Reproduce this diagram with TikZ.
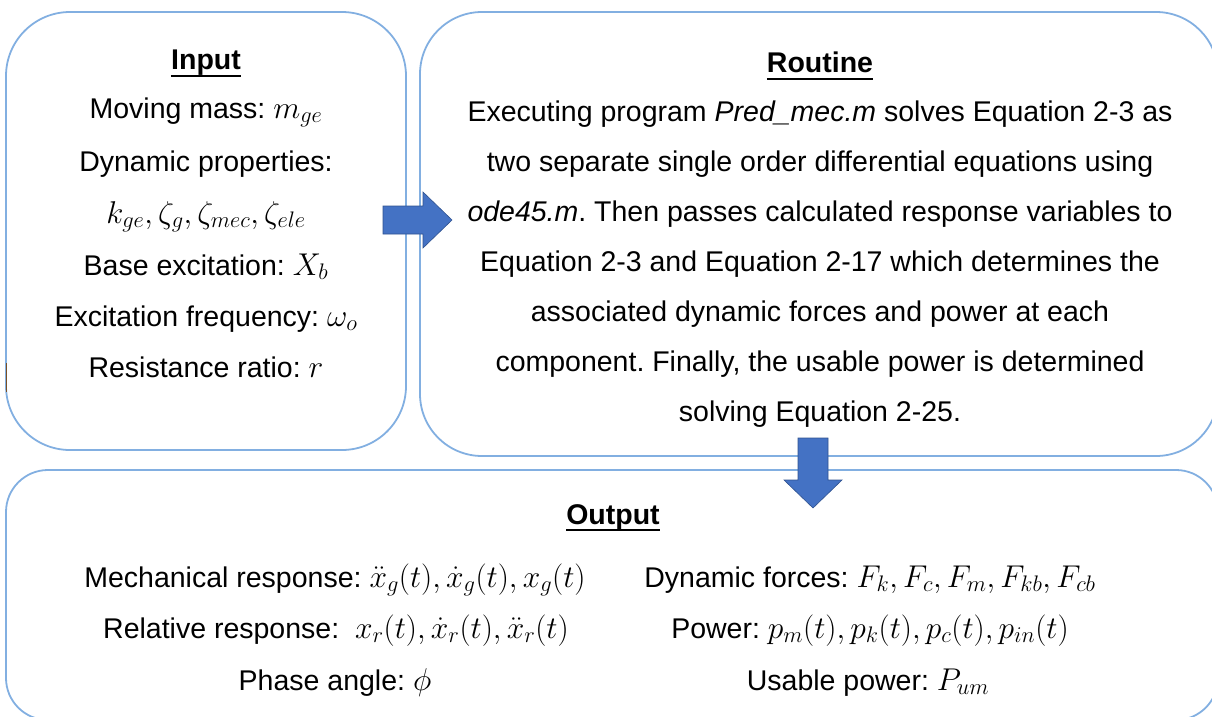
\RequirePackage{fix-cm}
\documentclass[tikz,border=0pt]{standalone}
\usepackage{fontspec}
\setmainfont{Liberation Sans}
\DeclareMathSizes{28.5}{31.5}{22.5}{17}
\frenchspacing
\definecolor{edge}{RGB}{130,175,225}
\definecolor{arrowfill}{RGB}{68,114,196}
\definecolor{arrowline}{RGB}{47,82,143}
\definecolor{tickbrown}{RGB}{120,80,40}
\tikzset{
  panel/.style={draw=edge, line width=1.8pt, inner sep=0pt, outer sep=0pt},
  txt/.style={inner sep=0pt, anchor=base, font=\fontsize{28.5}{34}\selectfont},
  head/.style={txt, font=\fontsize{28.5}{34}\selectfont\bfseries},
  headrule/.style={line width=2.2pt},
  blockarrow/.style={fill=arrowfill, draw=arrowline, line width=0.6pt, line join=miter}
}
\begin{document}
\begin{tikzpicture}[x=1pt,y=-1pt]
\useasboundingbox (0,0) rectangle (1212,717);
\begin{scope}
\clip (0,0) rectangle (1212,717);
% panels
\node[panel, rounded corners=64pt, minimum width=400pt, minimum height=438pt] (inbox) at (206,231) {};
\node[panel, rounded corners=62pt, minimum width=798pt, minimum height=444pt] (routine) at (819,234) {};
\node[panel, rounded corners=42pt, minimum width=1212pt, minimum height=250pt] (outbox) at (612,595) {};
\end{scope}
\draw[tickbrown, line width=1pt] (6,363) -- (6,392);

% block arrows between the panels
\coordinate (ra) at (383,220);
\coordinate (da) at (813,438);
\draw[blockarrow] (ra) ++(0,-14) -- ++(40,0) -- ++(0,-14) -- ++(29,28) -- ++(-29,28) -- ++(0,-14) -- ++(-40,0) -- cycle;
\draw[blockarrow] (da) ++(-15,0) -- ++(30,0) -- ++(0,42) -- ++(14,0) -- ++(-29,28) -- ++(-29,-28) -- ++(14,0) -- cycle;

% input panel
\node[head] (intitle) at (206,70) {Input};
\draw[headrule] ([yshift=-6pt]intitle.base west) -- ([yshift=-6pt]intitle.base east);
\node[txt] (in1) at (206,118) {Moving mass: $m_{ge}$};
\node[txt] (in2) at (206,171) {Dynamic properties:};
\node[txt] (in3) at (206,223) {$k_{ge}, \zeta_g, \zeta_{mec}, \zeta_{ele}$};
\node[txt] (in4) at (206,275) {Base excitation: $X_b$};
\node[txt] (in5) at (206,326) {Excitation frequency: $\omega_o$};
\node[txt] (in6) at (206,377) {Resistance ratio: $r$};

% routine panel
\node[head] (rotitle) at (820,73) {Routine};
\draw[headrule] ([yshift=-6pt]rotitle.base west) -- ([yshift=-6pt]rotitle.base east);
\node[txt] (ro1) at (820,121) {Executing program \textit{Pred\_mec.m} solves Equation 2-3 as};
\node[txt] (ro2) at (820,171) {two separate single order differential equations using};
\node[txt] (ro3) at (820,221) {\textit{ode45.m}. Then passes calculated response variables to};
\node[txt] (ro4) at (820,271) {Equation 2-3 and Equation 2-17 which determines the};
\node[txt] (ro5) at (820,321) {associated dynamic forces and power at each};
\node[txt] (ro6) at (820,371) {component. Finally, the usable power is determined};
\node[txt] (ro7) at (820,421) {solving Equation 2-25.};

% output panel
\node[head] (outtitle) at (613,524) {Output};
\draw[headrule] ([yshift=-6pt]outtitle.base west) -- ([yshift=-6pt]outtitle.base east);
\node[txt] (ol1) at (335,587) {Mechanical response: $\ddot{x}_g(t), \dot{x}_g(t), x_g(t)$};
\node[txt] (ol2) at (336,638) {Relative response:\ \ $x_r(t), \dot{x}_r(t), \ddot{x}_r(t)$};
\node[txt] (ol3) at (335,690) {Phase angle: $\phi$};
\node[txt] (or1) at (870,587) {Dynamic forces: $F_k, F_c, F_m, F_{kb}, F_{cb}$};
\node[txt] (or2) at (870,638) {Power: $p_m(t), p_k(t), p_c(t), p_{in}(t)$};
\node[txt] (or3) at (868,690) {Usable power: $P_{um}$};
\end{tikzpicture}
\end{document}
